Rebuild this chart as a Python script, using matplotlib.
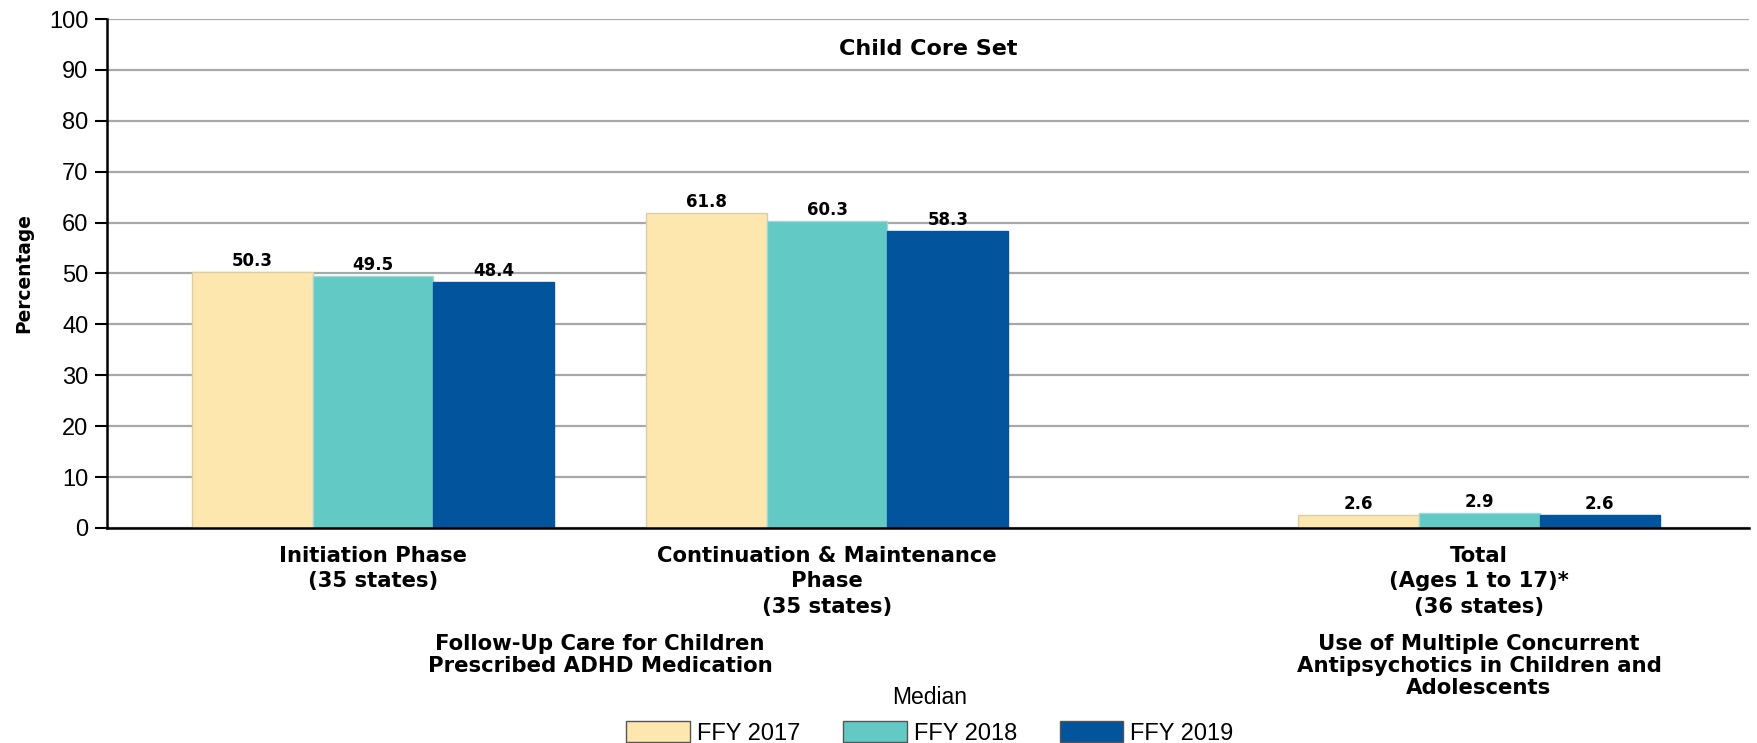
import matplotlib.pyplot as plt
from matplotlib.patches import Patch

# data
years = ["FFY 2017", "FFY 2018", "FFY 2019"]
measures = ["Initiation Phase\n(35 states)",
            "Continuation & Maintenance\nPhase\n(35 states)",
            "Total\n(Ages 1 to 17)*\n(36 states)"]
fy2017 = [50.3, 61.8, 2.6]
fy2018 = [49.5, 60.3, 2.9]
fy2019 = [48.4, 58.3, 2.6]
series = [fy2017, fy2018, fy2019]

group_titles = ["Follow-Up Care for Children\nPrescribed ADHD Medication",
                "Use of Multiple Concurrent\nAntipsychotics in Children and\nAdolescents"]

colors = ['#FEE6AF', '#62C9C4', '#02559C']
edges = ['#D9CFA6', '#9FD8D4', '#02559C']

plt.rcParams['font.family'] = ['Liberation Sans', 'DejaVu Sans']
BOLD = dict(family='DejaVu Sans', fontweight='bold')

fig = plt.figure(figsize=(17.58, 7.43), dpi=100)
ax = fig.add_axes([0.0606, 0.2894, 0.9344, 0.685])

# group centres in bar-width units (layout)
centers = [2.21, 5.98, 11.39]
width = 1.0

for i, vals in enumerate(series):
    xs = [c + (i - 1) * width for c in centers]
    bars = ax.bar(xs, vals, width=width, color=colors[i], edgecolor=edges[i],
                  linewidth=1, zorder=3)
    for b, v in zip(bars, vals):
        ax.annotate(f"{v:.1f}", (b.get_x() + b.get_width() / 2, v),
                    xytext=(0, 1.5), textcoords='offset points',
                    ha='center', va='bottom', fontsize=12, **BOLD)

ax.set_xlim(0, 13.63)
ax.set_ylim(0, 100)
ax.set_yticks(range(0, 101, 10))
ax.tick_params(axis='y', labelsize=17, length=9, width=1.5, pad=4)
ax.set_xticks(centers)
ax.set_xticklabels(measures, fontsize=15.2, linespacing=1.34, **BOLD)
ax.tick_params(axis='x', length=0, pad=13)
ax.grid(axis='y', color='#A8A8A8', linewidth=1.6, zorder=0)
for s in ['top', 'right']:
    ax.spines[s].set_visible(False)
ax.spines['left'].set_linewidth(1.8)
ax.spines['bottom'].set_linewidth(1.8)
ax.spines['bottom'].set_zorder(4)

ax.set_ylabel("Percentage", fontsize=13.4, **BOLD)
ax.yaxis.set_label_coords(-0.0447, 0.5)
ax.text(0.5, 0.941, "Child Core Set", transform=ax.transAxes, ha='center',
        va='center', fontsize=16, **BOLD)

# group labels under the measures
fig.text(600 / 1758, 1 - 634 / 743, group_titles[0], ha='center', va='top',
         fontsize=15.3, linespacing=1.11, **BOLD)
fig.text(1479 / 1758, 1 - 634 / 743, group_titles[1], ha='center', va='top',
         fontsize=15.3, linespacing=1.11, **BOLD)

handles = [Patch(facecolor=c, edgecolor='#555555', linewidth=1) for c in colors]
leg = fig.legend(handles, years, loc='upper center', bbox_to_anchor=(0.529, 1 - 672 / 743),
                 ncol=3, frameon=False, fontsize=17, title="Median",
                 title_fontsize=16.5, handlelength=2.7, handleheight=1.0,
                 handletextpad=0.3, columnspacing=1.8, borderaxespad=0.2)

fig.savefig("out.png", dpi=100)
